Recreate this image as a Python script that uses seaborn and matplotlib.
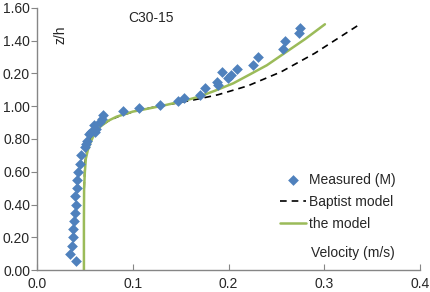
import seaborn as sns
import matplotlib.pyplot as plt
import pandas as pd

# measured points (velocity m/s, z/h)
meas_v = [0.0407, 0.0348, 0.0365, 0.0376, 0.0379, 0.0386, 0.0400, 0.0407, 0.0393, 0.0414,
          0.0414, 0.0428, 0.0449, 0.0456, 0.0500, 0.0510, 0.0520, 0.0546, 0.0564, 0.0598,
          0.0620, 0.0610, 0.0658, 0.0675, 0.0692, 0.0900, 0.1060, 0.1280, 0.1475, 0.1530,
          0.1700, 0.1750, 0.1875, 0.1890, 0.1930, 0.1997, 0.2030, 0.2090, 0.2260, 0.2310,
          0.2570, 0.2590, 0.2740, 0.2745]
meas_z = [0.055, 0.100, 0.150, 0.200, 0.250, 0.300, 0.350, 0.400, 0.450, 0.500,
          0.550, 0.600, 0.650, 0.700, 0.750, 0.770, 0.790, 0.830, 0.840, 0.885,
          0.860, 0.845, 0.905, 0.925, 0.945, 0.970, 0.990, 1.010, 1.030, 1.050,
          1.070, 1.110, 1.150, 1.130, 1.210, 1.170, 1.190, 1.230, 1.250, 1.300,
          1.350, 1.400, 1.445, 1.480]

# Baptist model curve
bap_v = [0.049, 0.049, 0.0495, 0.050, 0.0515, 0.0535, 0.057, 0.062, 0.068, 0.076, 0.086,
         0.100, 0.120, 0.140, 0.165, 0.189, 0.220, 0.255, 0.290, 0.337]
bap_z = [0.00, 0.40, 0.55, 0.65, 0.71, 0.76, 0.81, 0.85, 0.885, 0.915, 0.94,
         0.965, 0.992, 1.013, 1.040, 1.070, 1.124, 1.210, 1.323, 1.500]

# the model curve
mod_v = [0.049, 0.049, 0.0492, 0.050, 0.051, 0.053, 0.0553, 0.059, 0.066, 0.074, 0.083,
         0.100, 0.120, 0.135, 0.155, 0.170, 0.186, 0.205, 0.221, 0.240, 0.255, 0.280, 0.3006]
mod_z = [0.00, 0.30, 0.50, 0.60, 0.68, 0.73, 0.77, 0.82, 0.875, 0.91, 0.936,
         0.967, 0.990, 1.008, 1.035, 1.060, 1.095, 1.140, 1.190, 1.250, 1.310, 1.410, 1.500]

x_ticks = [0.0, 0.1, 0.2, 0.3, 0.4]
x_labels = ['0.0', '0.1', '0.2', '0.3', '0.4']
y_ticks = [0.0, 0.2, 0.4, 0.6, 0.8, 1.0, 1.2, 1.4, 1.6]
y_labels = ['0.00', '0.20', '0.40', '0.60', '0.80', '1.00', '0.20', '1.40', '1.60']

sns.set_style('white')
plt.rcParams['font.family'] = ['Liberation Sans', 'DejaVu Sans']

meas = pd.DataFrame({'v': meas_v, 'z': meas_z})
bap = pd.DataFrame({'v': bap_v, 'z': bap_z})
mod = pd.DataFrame({'v': mod_v, 'z': mod_z})

fig = plt.figure(figsize=(4.3, 2.92), dpi=100)
ax = fig.add_axes([0.086, 0.075, 0.891, 0.898])

sns.scatterplot(data=meas, x='v', y='z', marker='D', s=30, color='#4F81BD',
                edgecolor='#4F81BD', linewidth=0, ax=ax, label='Measured (M)', zorder=3)
sns.lineplot(data=bap, x='v', y='z', sort=False, estimator=None, color='black',
             linestyle=(0, (4, 3)), linewidth=1.2, ax=ax, label='Baptist model', zorder=2)
sns.lineplot(data=mod, x='v', y='z', sort=False, estimator=None, color='#9BBB59',
             linewidth=1.8, ax=ax, label='the model', zorder=2)

ax.set_xlim(0, 0.4)
ax.set_ylim(0, 1.6)
ax.set_xticks(x_ticks)
ax.set_xticklabels(x_labels)
ax.set_yticks(y_ticks)
ax.set_yticklabels(y_labels)
ax.set_xlabel('')
ax.set_ylabel('')
ax.tick_params(axis='x', direction='in', length=4, labelsize=10, pad=5, color='#868686')
ax.tick_params(axis='y', direction='out', length=4, labelsize=10, pad=1, color='#868686')
ax.tick_params(axis='both', which='both', bottom=True, left=True)
for s in ['top', 'right']:
    ax.spines[s].set_visible(False)
for s in ['left', 'bottom']:
    ax.spines[s].set_color('#868686')
    ax.spines[s].set_linewidth(1)

ax.text(0.119, 1.54, 'C30-15', fontsize=10, ha='center', va='center')
ax.text(0.025, 1.435, 'z/h', fontsize=10, rotation=90, ha='center', va='center')
ax.text(0.330, 0.104, 'Velocity (m/s)', fontsize=10, ha='center', va='center')

ax.legend(loc='upper left', bbox_to_anchor=(0.634, 0.37), frameon=False, fontsize=10,
          handlelength=1.87, handletextpad=0.2, labelspacing=0.58, borderpad=0,
          borderaxespad=0)

fig.savefig('out.png', dpi=100)
